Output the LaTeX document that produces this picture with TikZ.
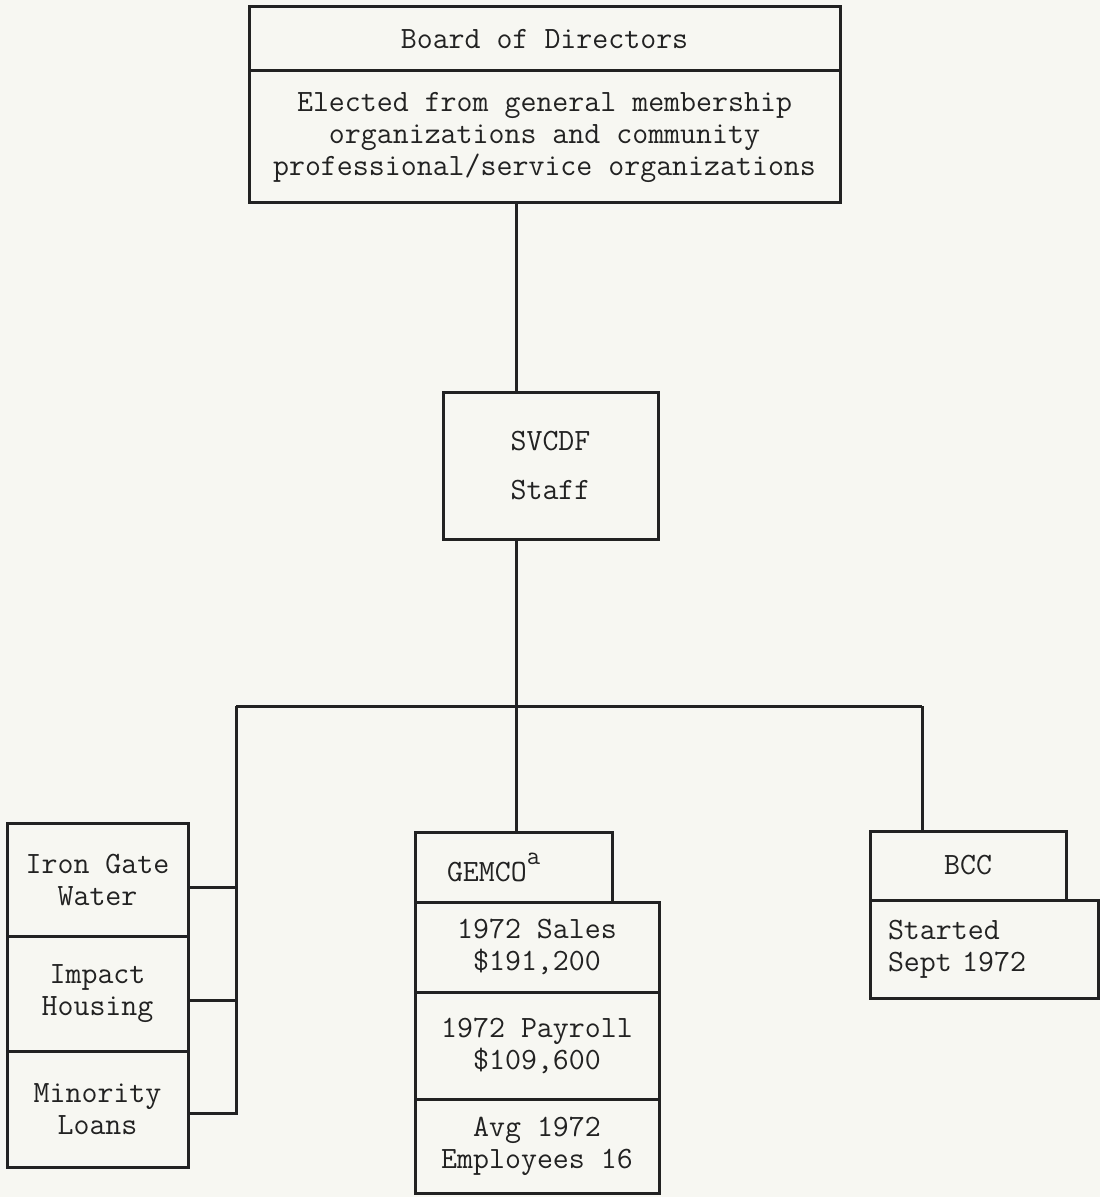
\documentclass[tikz,border=0pt]{standalone}
\usepackage{fontspec}
\definecolor{ink}{HTML}{222222}
\definecolor{paper}{HTML}{F7F7F2}
\newcommand{\tfont}{\ttfamily\addfontfeatures{FakeBold=0.6}\fontsize{15.5pt}{16pt}\selectfont}
\newcommand{\supa}{\raisebox{0.55em}{\fontsize{13pt}{13pt}\selectfont a}}
\begin{document}
\begin{tikzpicture}[x=0.5pt,y=-0.5pt,
  box/.style={draw=ink, text=ink, line width=1.5pt, inner sep=0pt, align=center, font=\tfont},
  lbox/.style={box, align=left},
  conn/.style={draw=ink, line width=1.5pt}]
\fill[paper] (0,0) rectangle (1100,1197);
\useasboundingbox (0,0) rectangle (1100,1197);
% board
\node[box, minimum width=295.5pt, minimum height=32pt] (bt) at (544.5,39) {Board of Directors};
\node[box, minimum width=295.5pt, minimum height=66pt] (bb) at (544.5,137)
  {Elected from general membership\\organizations and community\\professional/service organizations};
% staff
\node[box, minimum width=107.5pt, minimum height=73pt] (sv) at (550.5,466) {SVCDF\\[8.5pt]Staff};
% left stack
\node[box, minimum width=90.5pt, minimum height=56.5pt] (iron) at (97.5,879.5) {Iron Gate\\Water};
\node[box, minimum width=90.5pt, minimum height=57.5pt] (imp) at (97.5,993.5) {Impact\\Housing};
\node[box, minimum width=90.5pt, minimum height=58pt] (min) at (97.5,1109) {Minority\\Loans};
% GEMCO
\node[lbox, text width=66.5pt, inner xsep=16pt, minimum height=35pt] (gemco) at (513.5,867) {GEMCO\supa};
\node[box, minimum width=122pt, minimum height=45pt] (sales) at (537,947) {1972 Sales\\\$191,200};
\node[box, minimum width=122pt, minimum height=53.5pt] (pay) at (537,1045.5) {1972 Payroll\\\$109,600};
\node[box, minimum width=122pt, minimum height=47pt] (avg) at (537,1146) {Avg 1972\\Employees 16};
% BCC
\node[box, minimum width=98pt, minimum height=34.5pt] (bcc) at (968,865.5) {BCC};
\node[lbox, text width=96pt, inner xsep=9pt, minimum height=49pt] (st) at (984,949) {Started\\Sept 1972};
% connectors
\coordinate (trunk) at (516,706);
\coordinate (barL) at (236,706);
\coordinate (barR) at (922,706);
\draw[conn] (bb.south -| trunk) -- (sv.north -| trunk);
\draw[conn] (sv.south -| trunk) -- (gemco.north -| trunk);
\draw[conn] (barL) -- (barR);
\draw[conn] (barR) -- (bcc.north -| barR);
\draw[conn] (barL) -- ([yshift=-2pt]min.east -| barL) -- ([yshift=-2pt]min.east);
\draw[conn] ([yshift=-3.75pt]iron.east) -- ([yshift=-3.75pt]iron.east -| barL);
\draw[conn] ([yshift=-3.25pt]imp.east) -- ([yshift=-3.25pt]imp.east -| barL);
\end{tikzpicture}
\end{document}
